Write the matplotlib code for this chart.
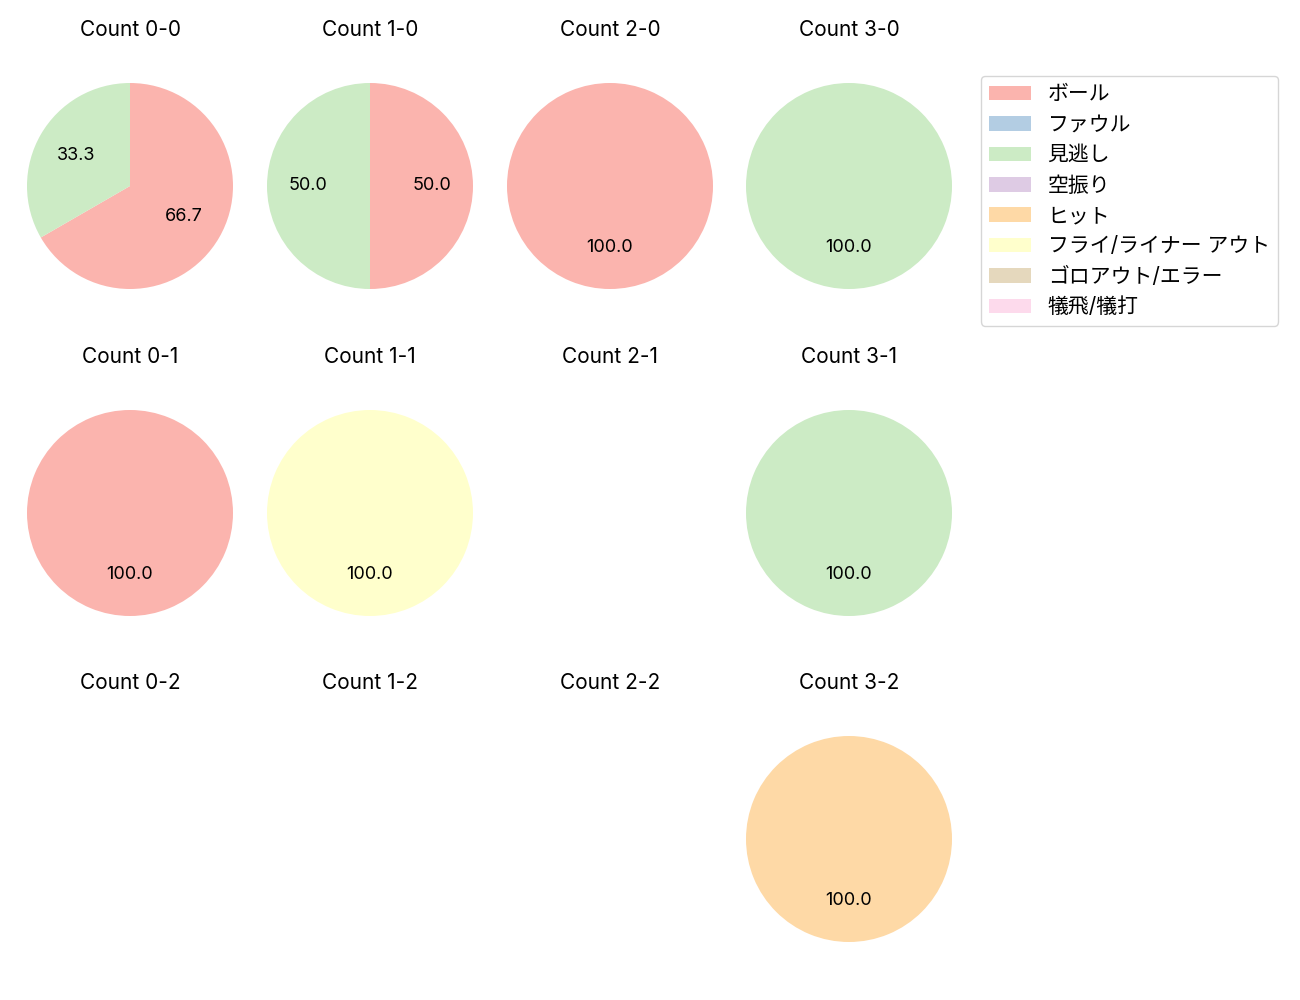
import matplotlib.pyplot as plt
from matplotlib.patches import Patch

plt.rcParams['font.family'] = ['Inter', 'Noto Sans CJK JP', 'DejaVu Sans']

# result categories and Pastel1 colours
categories = ['ボール', 'ファウル', '見逃し', '空振り', 'ヒット',
              'フライ/ライナー アウト', 'ゴロアウト/エラー', '犠飛/犠打']
colors = ['#fbb4ae', '#b3cde3', '#ccebc5', '#decbe4', '#fed9a6',
          '#ffffcc', '#e5d8bd', '#fddaec']

balls = [0, 1, 2, 3]
strikes = [0, 1, 2]

# counts per category for each ball-strike count (None = no pitches)
counts = {
    (0, 0): [2, 0, 1, 0, 0, 0, 0, 0],
    (1, 0): [1, 0, 1, 0, 0, 0, 0, 0],
    (2, 0): [1, 0, 0, 0, 0, 0, 0, 0],
    (3, 0): [0, 0, 1, 0, 0, 0, 0, 0],
    (0, 1): [1, 0, 0, 0, 0, 0, 0, 0],
    (1, 1): [0, 0, 0, 0, 0, 1, 0, 0],
    (2, 1): None,
    (3, 1): [0, 0, 1, 0, 0, 0, 0, 0],
    (0, 2): None,
    (1, 2): None,
    (2, 2): None,
    (3, 2): [0, 0, 0, 0, 1, 0, 0, 0],
}

W, H = 1300, 1000
fig = plt.figure(figsize=(13, 10), dpi=100)

r_px = 103
box = 2.5 * r_px
col_cx = [130, 370, 610, 849]
row_cy = [186, 513, 839]

for s in strikes:
    for b in balls:
        cx, cy = col_cx[b], row_cy[s]
        ax = fig.add_axes([(cx - box / 2) / W, 1 - (cy + box / 2) / H,
                           box / W, box / H])
        ax.set_title(f'Count {b}-{s}', fontsize=15, pad=15.5)
        vals = counts[(b, s)]
        if vals is None:
            ax.axis('off')
            continue
        nz = [(v, c) for v, c in zip(vals, colors) if v > 0]
        ax.pie([v for v, _ in nz], colors=[c for _, c in nz],
               startangle=90, counterclock=False,
               autopct='%.1f', textprops={'fontsize': 13})
        ax.set_xlim(-1.25, 1.25)
        ax.set_ylim(-1.25, 1.25)

handles = [Patch(facecolor=c, label=l) for c, l in zip(colors, categories)]
fig.legend(handles=handles, loc='upper left',
           bbox_to_anchor=(981 / W, 1 - 76 / H), fontsize=15,
           borderaxespad=0)

fig.savefig('out.png')
